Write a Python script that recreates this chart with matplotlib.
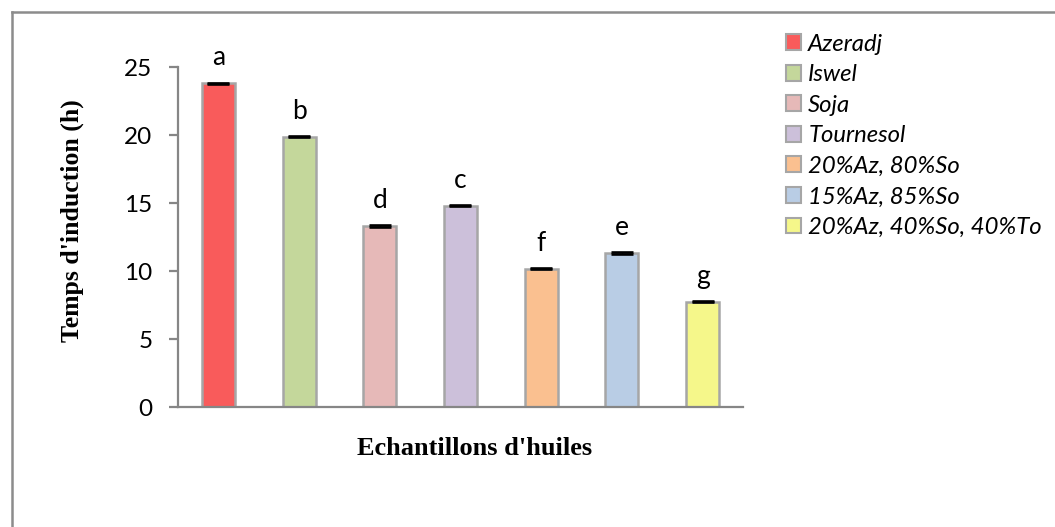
import matplotlib.pyplot as plt
from matplotlib.lines import Line2D
from matplotlib.patches import Patch

# induction time per oil sample (h)
samples = ["Azeradj", "Iswel", "Soja", "Tournesol",
           "20%Az, 80%So", "15%Az, 85%So", "20%Az, 40%So, 40%To"]
temps = [23.8, 19.87, 13.3, 14.8, 10.17, 11.33, 7.74]
errs = [0.05, 0.05, 0.05, 0.05, 0.05, 0.05, 0.05]
groups = ["a", "b", "d", "c", "f", "e", "g"]
colors = ["#F95B5B", "#C4D79B", "#E6B9B8", "#CCC0DA",
          "#FAC090", "#B9CDE5", "#F5F78A"]

fig = plt.figure(figsize=(10.55, 5.27), dpi=100)
ax = fig.add_axes([178 / 1055, 1 - 407 / 527, (743 - 178) / 1055, 340 / 527])

x = list(range(len(samples)))
ax.bar(x, temps, width=0.41, color=colors, edgecolor="#A6A6A6",
       linewidth=1.8, zorder=2)
ax.errorbar(x, temps, yerr=errs, fmt="none", ecolor="black",
            elinewidth=1, capsize=8, capthick=1.9, zorder=3)

# significance letters above each bar
for xi, v, g in zip(x, temps, groups):
    ax.annotate(g, (xi, v), xytext=(0, 13), textcoords="offset points",
                ha="center", va="baseline", fontsize=19, family="Lato")

ax.set_xlim(-0.5, len(samples) - 0.5)
ax.set_ylim(0, 25)
ax.set_yticks([0, 5, 10, 15, 20, 25])
ax.set_xticks([])
for s in ["top", "right"]:
    ax.spines[s].set_visible(False)
for s in ["left", "bottom"]:
    ax.spines[s].set_color("#868686")
    ax.spines[s].set_linewidth(1.6)
ax.tick_params(axis="y", length=6.5, width=1.6, color="#868686",
               labelsize=17.5, pad=12)
for lab in ax.get_yticklabels():
    lab.set_family("Lato")

ax.set_ylabel("Temps d'induction (h)", family="Liberation Serif",
              fontweight="bold", fontsize=18.5, va="center")
ax.yaxis.set_label_coords(-0.1876, 0.547)
ax.set_xlabel("Echantillons d'huiles", family="Liberation Serif",
              fontweight="bold", fontsize=19, va="center")
ax.xaxis.set_label_coords(0.5257, -0.1235)

handles = [Patch(facecolor=c, edgecolor="#A6A6A6", linewidth=1.5) for c in colors]
fig.legend(handles, samples, loc="upper left",
           bbox_to_anchor=(776 / 1055, 1 - 24 / 527),
           frameon=False, prop={"family": "Lato", "style": "italic", "size": 17.2},
           handlelength=0.65, handleheight=0.65, handletextpad=0.3,
           labelspacing=0.4, borderaxespad=0)

# chart area frame (top and left edges)
fig.add_artist(Line2D([11.5 / 1055, 1], [1 - 12 / 527] * 2, color="#8C8C8C",
                      lw=1.8, transform=fig.transFigure))
fig.add_artist(Line2D([11.5 / 1055] * 2, [0, 1 - 12 / 527], color="#8C8C8C",
                      lw=1.8, transform=fig.transFigure))

fig.savefig("out.png", dpi=100, facecolor="white")
